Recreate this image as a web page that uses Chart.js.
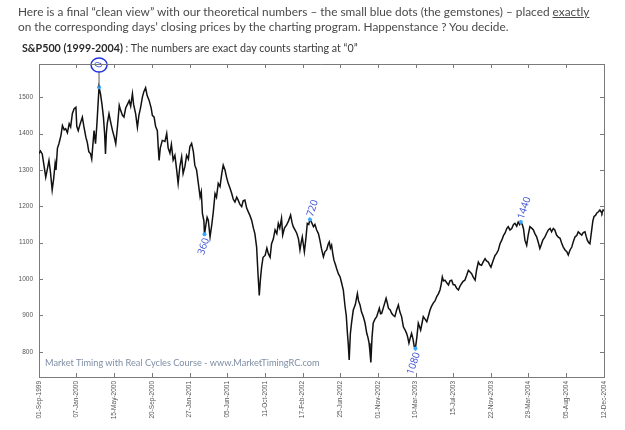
<!DOCTYPE html>
<html>
<head>
<meta charset="utf-8">
<script src="https://cdn.jsdelivr.net/npm/chart.js@4"></script>
<style>
  body { margin: 0; background: #fff; }
  #wrap { position: relative; width: 625px; height: 430px; overflow: hidden; }
  #chart { position: absolute; left: 0; top: 0; }
  .txt { position: absolute; font-family: Lato, "Open Sans", sans-serif; color: #4a4a4a; white-space: nowrap; }
  #l1 { left: 18px; top: 4px; font-size: 11.85px; }
  #l2 { left: 18px; top: 19px; font-size: 11.85px; }
  #l3 { left: 22px; top: 41px; font-size: 10.7px; color: #3a3a3a; }
  #l3 b { color: #2a2a2a; }
  #mark { left: 45px; top: 357px; font-size: 9.2px; color: #7f8ea5; }
</style>
</head>
<body>
<div id="wrap">
  <canvas id="chart" width="625" height="430"></canvas>
  <div class="txt" id="l1">Here is a final “clean view” with our theoretical numbers – the small blue dots (the gemstones) – placed <u>exactly</u></div>
  <div class="txt" id="l2">on the corresponding days’ closing prices by the charting program. Happenstance ? You decide.</div>
  <div class="txt" id="l3"><b>S&amp;P500 (1999-2004)</b> : The numbers are exact day counts starting at “0”</div>
  <div class="txt" id="mark">Market Timing with Real Cycles Course - www.MarketTimingRC.com</div>
</div>
<script>
// calendar days counted from 01-Sep-1999, and the closes
const days = [0, 5, 11, 16, 23, 28, 34, 39, 45, 50, 55, 58, 63, 68, 75, 80, 86, 91, 97, 103,
  108, 114, 120, 126, 129, 134, 140, 148, 153, 160, 165, 170, 176, 180, 183, 188, 193, 198, 203, 205,
  210, 215, 220, 224, 227, 230, 233, 239, 245, 251, 257, 262, 268, 274, 279, 285, 290, 296, 302, 308,
  313, 319, 323, 330, 336, 341, 347, 353, 358, 364, 369, 376, 383, 387, 393, 398, 404, 407, 410, 414,
  421, 430, 436, 441, 447, 452, 458, 464, 470, 475, 481, 487, 492, 498, 504, 510, 515, 521, 527, 532,
  538, 544, 550, 554, 558, 563, 565, 570, 574, 578, 584, 590, 595, 601, 606, 612, 618, 624, 629, 635,
  640, 646, 652, 658, 663, 669, 675, 680, 686, 692, 697, 703, 709, 715, 720, 726, 732, 737, 743, 748,
  752, 756, 760, 765, 772, 778, 783, 789, 794, 800, 806, 812, 817, 822, 828, 832, 838, 845, 852, 859,
  864, 868, 874, 880, 886, 891, 895, 899, 906, 911, 916, 921, 925, 931, 937, 942, 948, 954, 959, 964,
  971, 976, 982, 987, 991, 995, 999, 1003, 1007, 1012, 1016, 1022, 1028, 1033, 1039, 1045, 1049, 1053, 1056, 1059,
  1063, 1067, 1073, 1080, 1087, 1091, 1096, 1101, 1107, 1113, 1119, 1123, 1127, 1130, 1133, 1137, 1141, 1147, 1153, 1158,
  1162, 1166, 1170, 1177, 1185, 1189, 1193, 1199, 1204, 1210, 1215, 1221, 1227, 1232, 1238, 1244, 1250, 1255, 1259, 1263,
  1268, 1272, 1277, 1281, 1285, 1290, 1295, 1299, 1303, 1308, 1312, 1318, 1324, 1330, 1335, 1340, 1346, 1352, 1358, 1364,
  1369, 1373, 1377, 1381, 1386, 1392, 1398, 1403, 1409, 1414, 1420, 1426, 1432, 1437, 1443, 1448, 1454, 1460, 1466, 1471,
  1477, 1483, 1489, 1494, 1500, 1505, 1511, 1517, 1523, 1528, 1534, 1538, 1543, 1550, 1557, 1562, 1568, 1574, 1580, 1586,
  1591, 1597, 1602, 1608, 1614, 1620, 1625, 1631, 1636, 1641, 1645, 1650, 1654, 1659, 1665, 1670, 1676, 1682, 1688, 1693,
  1699, 1705, 1710, 1715, 1720, 1727, 1733, 1739, 1745, 1750, 1756, 1761, 1767, 1773, 1779, 1784, 1790, 1796, 1802, 1807,
  1813, 1819, 1825, 1830, 1836, 1841, 1847, 1853, 1858, 1864, 1868, 1872, 1877, 1881, 1887, 1891, 1895, 1900, 1904, 1910,
  1915, 1919, 1922, 1926, 1929];
const closes = [1345, 1352, 1344, 1318, 1280, 1300, 1326, 1295, 1245, 1275, 1317, 1300, 1360, 1372, 1395, 1422, 1410, 1413, 1402, 1427,
  1418, 1455, 1468, 1472, 1420, 1408, 1425, 1445, 1420, 1390, 1375, 1350, 1344, 1330, 1360, 1408, 1372, 1430, 1500, 1527,
  1509, 1480, 1445, 1400, 1344, 1400, 1427, 1454, 1430, 1408, 1390, 1372, 1420, 1477, 1463, 1450, 1445, 1470, 1480, 1490,
  1475, 1509, 1480, 1454, 1417, 1450, 1472, 1500, 1515, 1526, 1505, 1491, 1470, 1450, 1445, 1420, 1408, 1364, 1326, 1360,
  1381, 1378, 1400, 1360, 1346, 1370, 1327, 1340, 1300, 1263, 1310, 1336, 1290, 1309, 1340, 1330, 1364, 1373, 1350, 1313,
  1300, 1263, 1226, 1240, 1180, 1160, 1123, 1150, 1170, 1162, 1116, 1150, 1184, 1235, 1225, 1263, 1254, 1290, 1313, 1300,
  1281, 1263, 1250, 1235, 1220, 1212, 1225, 1217, 1205, 1199, 1215, 1217, 1195, 1184, 1175, 1162, 1140, 1125, 1088, 1010,
  955, 1000, 1033, 1060, 1065, 1085, 1070, 1060, 1097, 1110, 1135, 1125, 1153, 1140, 1167, 1121, 1140, 1148, 1160, 1176,
  1155, 1144, 1135, 1126, 1110, 1080, 1100, 1116, 1075, 1110, 1153, 1150, 1164, 1155, 1144, 1150, 1135, 1125, 1107, 1085,
  1061, 1075, 1080, 1095, 1102, 1085, 1093, 1070, 1052, 1040, 1029, 1015, 1006, 990, 970, 924, 900, 851, 820, 778,
  850, 879, 915, 930, 960, 940, 929, 910, 897, 880, 851, 840, 824, 800, 771, 840, 879, 890, 897, 910,
  920, 905, 906, 925, 947, 935, 920, 915, 906, 900, 897, 915, 929, 910, 897, 869, 860, 851, 840, 824,
  840, 851, 835, 815, 809, 840, 879, 870, 860, 880, 897, 890, 883, 900, 915, 925, 934, 940, 952, 960,
  970, 985, 1006, 995, 997, 990, 984, 995, 997, 985, 984, 975, 970, 980, 988, 994, 997, 1010, 1024, 1020,
  1015, 1005, 997, 1025, 1047, 1040, 1038, 1048, 1056, 1050, 1047, 1040, 1033, 1050, 1065, 1070, 1079, 1097, 1107, 1120,
  1126, 1139, 1144, 1135, 1139, 1150, 1153, 1145, 1157, 1150, 1157, 1150, 1139, 1107, 1093, 1120, 1144, 1140, 1135, 1125,
  1116, 1100, 1084, 1095, 1107, 1115, 1126, 1135, 1139, 1130, 1139, 1135, 1121, 1115, 1112, 1100, 1088, 1080, 1075, 1066,
  1080, 1088, 1105, 1116, 1120, 1130, 1125, 1121, 1128, 1130, 1118, 1107, 1100, 1097, 1135, 1160, 1172, 1175, 1181, 1185,
  1190, 1185, 1181, 1190, 1188];

// the day counts (blue dots), counted from the March 2000 top
const countLabels = ["0", "360", "720", "1080", "1440"];
const countDays = [205, 565, 925, 1285, 1645];
const countCloses = [1527, 1123, 1164, 809, 1157];

const tickDays = [0, 128, 257, 385, 514, 643, 771, 900, 1028, 1157, 1286, 1413, 1543, 1671, 1800, 1929];
const tickLabels = ["01-Sep-1999", "07-Jan-2000", "15-May-2000", "20-Sep-2000", "27-Jan-2001", "05-Jun-2001",
  "11-Oct-2001", "17-Feb-2002", "25-Jun-2002", "01-Nov-2002", "10-Mar-2003", "15-Jul-2003", "22-Nov-2003",
  "29-Mar-2004", "05-Aug-2004", "12-Dec-2004"];
const priceTicks = [800, 900, 1000, 1100, 1200, 1300, 1400, 1500];

const axisColor = "#7a7a7a";
const blue = "#3b4fd6";

// matlab style box: ticks pointing inward on all four sides
const boxPlugin = {
  id: "box",
  afterDraw(chart) {
    const { ctx, chartArea: a, scales } = chart;
    ctx.save();
    ctx.strokeStyle = axisColor;
    ctx.lineWidth = 1;
    ctx.beginPath();
    ctx.moveTo(a.left, a.top + 0.5);
    ctx.lineTo(a.right + 0.5, a.top + 0.5);
    ctx.lineTo(a.right + 0.5, a.bottom);
    scales.x.ticks.forEach((t) => {
      const px = Math.round(scales.x.getPixelForValue(t.value)) + 0.5;
      ctx.moveTo(px, a.bottom);
      ctx.lineTo(px, a.bottom - 4);
      ctx.moveTo(px, a.top);
      ctx.lineTo(px, a.top + 4);
    });
    scales.y.ticks.forEach((t) => {
      const py = Math.round(scales.y.getPixelForValue(t.value)) + 0.5;
      ctx.moveTo(a.left, py);
      ctx.lineTo(a.left + 4, py);
      ctx.moveTo(a.right, py);
      ctx.lineTo(a.right - 4, py);
    });
    ctx.stroke();
    ctx.restore();
  },
};

// the day count numbers next to the dots
const countPlugin = {
  id: "counts",
  afterDatasetsDraw(chart) {
    const { ctx, scales, chartArea } = chart;
    ctx.save();
    ctx.fillStyle = blue;
    ctx.strokeStyle = blue;
    ctx.font = "10px 'Open Sans', sans-serif";
    ctx.textBaseline = "middle";
    countLabels.forEach((lab, i) => {
      const px = scales.x.getPixelForValue(countDays[i]);
      const py = scales.y.getPixelForValue(countCloses[i]);
      ctx.save();
      if (i === 0) {
        const cy = chartArea.top + 1;
        ctx.strokeStyle = "#333";
        ctx.lineWidth = 0.8;
        ctx.beginPath();
        ctx.moveTo(px, py);
        ctx.lineTo(px, cy + 7);
        ctx.stroke();
        ctx.strokeStyle = "#2233dd";
        ctx.lineWidth = 1.5;
        ctx.beginPath();
        ctx.ellipse(px, cy, 8, 7, 0, 0, Math.PI * 2);
        ctx.stroke();
        ctx.translate(px, cy);
        ctx.rotate(-1.25);
        ctx.textAlign = "center";
        ctx.fillText(lab, 0, 0);
      } else if (i % 2 === 1) {
        ctx.translate(px + 2, py + 4);
        ctx.rotate(-1.25);
        ctx.textAlign = "right";
        ctx.fillText(lab, 0, 0);
      } else {
        ctx.translate(px, py - 3);
        ctx.rotate(-1.25);
        ctx.textAlign = "left";
        ctx.fillText(lab, 0, 0);
      }
      ctx.restore();
    });
    ctx.restore();
  },
};

const ctx = document.getElementById("chart").getContext("2d");
new Chart(ctx, {
  type: "line",
  data: {
    datasets: [
      {
        label: "S&P500",
        data: days.map((d, i) => ({ x: d, y: closes[i] })),
        borderColor: "#111",
        borderWidth: 1.5,
        pointRadius: 0,
        tension: 0,
        order: 2,
      },
      {
        label: "day counts",
        data: countDays.map((d, i) => ({ x: d, y: countCloses[i] })),
        showLine: false,
        pointRadius: 2,
        pointBorderWidth: 0,
        pointBackgroundColor: "#3aa6ff",
        order: 1,
      },
    ],
  },
  options: {
    responsive: false,
    animation: false,
    layout: { padding: { top: 64, right: 21, left: 0, bottom: 0 } },
    plugins: { legend: { display: false }, tooltip: { enabled: false } },
    scales: {
      x: {
        type: "linear",
        min: 0,
        max: 1929,
        afterBuildTicks: (scale) => {
          scale.ticks = tickDays.map((v) => ({ value: v }));
        },
        afterFit: (scale) => {
          scale.height = 53;
        },
        grid: { display: false, drawTicks: false },
        border: { color: axisColor },
        ticks: {
          autoSkip: false,
          minRotation: 90,
          maxRotation: 90,
          padding: 4,
          color: "#555",
          font: { family: "'Liberation Sans', sans-serif", size: 6.5 },
          callback: (v) => tickLabels[tickDays.indexOf(v)],
        },
      },
      y: {
        min: 731,
        max: 1591,
        afterBuildTicks: (scale) => {
          scale.ticks = priceTicks.map((v) => ({ value: v }));
        },
        afterFit: (scale) => {
          scale.width = 39;
        },
        grid: { display: false, drawTicks: false },
        border: { color: axisColor },
        ticks: {
          padding: 6,
          color: "#555",
          font: { family: "'Liberation Sans', sans-serif", size: 6.5 },
          callback: (v) => String(v),
        },
      },
    },
  },
  plugins: [boxPlugin, countPlugin],
});
</script>
</body>
</html>
